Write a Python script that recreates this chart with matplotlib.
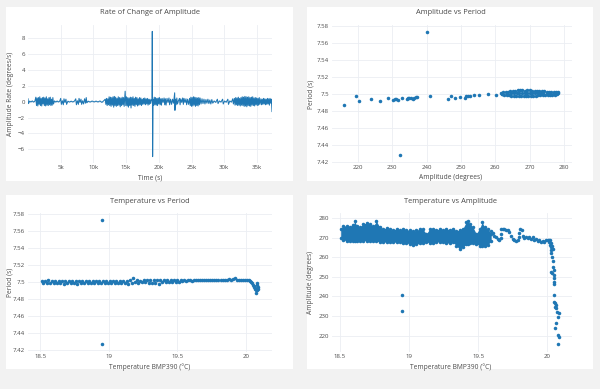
import matplotlib.pyplot as plt
from matplotlib.patches import Rectangle

W, H = 600, 389
plt.rcParams['font.family'] = ['Open Sans', 'DejaVu Sans']

BLUE = '#1f77b4'
TEXT = '#4a4a4a'
GRID = '#ebeef3'
MS = 6.5

# ---- Rate of change of amplitude (line) ----
rate_time = [
    0, 80, 250, 450, 650, 850, 1050,
    1200, 1300, 1400, 1500, 1600, 1700, 1800, 1900, 2000, 2100,
    2200, 2300, 2400, 2500, 2600, 2700, 2800, 2900, 3000, 3100,
    3200, 3300, 3400, 3500, 3600, 3700, 3800, 3900,
    4050, 4250, 4450, 4650, 4850,
    5000, 5100, 5250, 5400, 5500, 5650, 5800, 5900,
    6100, 6350, 6600, 6850, 7100,
    7300, 7400, 7550, 7700, 7800, 7950, 8100, 8200, 8350, 8500,
    8650, 8800, 8900, 9000,
    9200, 9500, 9800, 10100, 10400, 10700, 11000, 11300, 11600,
    11800, 11900, 12000, 12100, 12200, 12300, 12400, 12500, 12600, 12700,
    12800, 12900, 13000, 13100, 13200, 13300, 13400, 13500, 13600, 13700,
    13800, 13900, 14000, 14100, 14200, 14300, 14400, 14500, 14600, 14700,
    14850,
    14950, 15050, 15150, 15250, 15350, 15450, 15550, 15650, 15750, 15850,
    15950, 16050, 16150, 16250, 16350, 16450, 16550, 16650, 16750, 16850,
    16950, 17050, 17150, 17250, 17350, 17450, 17550, 17650, 17750, 17850,
    17950, 18050, 18150, 18250, 18350, 18450, 18550, 18650, 18750, 18850,
    18950, 19000, 19050, 19120,
    19200, 19300, 19400, 19500, 19600, 19700, 19800, 19900, 20000, 20100,
    20200, 20300, 20400, 20500, 20650, 20800, 20900, 21000, 21100, 21250,
    21400, 21550, 21650, 21800, 21950, 22100, 22250,
    22420, 22460, 22550,
    22650, 22750, 22850, 23000, 23150, 23250, 23350, 23500, 23650, 23750,
    23850, 24000, 24150, 24250, 24400, 24550, 24700,
    24800, 24900, 25000, 25100, 25200, 25300, 25400, 25500, 25600, 25700,
    25800, 25900, 26000, 26100, 26200, 26300,
    26450, 26600, 26750, 26900, 27050, 27200, 27350, 27500, 27650, 27800,
    27950, 28100, 28250,
    28450, 28700, 28950, 29050, 29250, 29500, 29750, 29850, 30050, 30300,
    30550, 30650, 30850, 31100, 31300, 31400,
    31550, 31650, 31750, 31850, 31950, 32050, 32150, 32250, 32350, 32450,
    32550, 32650, 32750, 32850, 32950, 33050, 33150, 33250, 33350, 33450,
    33550, 33650, 33750, 33850, 33950, 34050, 34150, 34250, 34350, 34450,
    34550, 34650, 34750, 34850, 34950, 35050, 35150, 35250, 35350, 35450,
    35600, 35700, 35800, 35900, 36000, 36100, 36200, 36300, 36400, 36500,
    36600, 36700, 36800, 36900, 37000, 37100, 37200, 37300,
]
rate_value = [
    0.35, -0.25, 0.06, -0.05, 0.08, -0.06, 0.05,
    0.55, -0.5, 0.45, -0.55, 0.5, -0.35, 0.6, -0.5, 0.4, -0.55,
    0.5, -0.3, 0.55, -0.5, 0.45, -0.55, 0.6, -0.45, 0.35, -0.5,
    0.5, -0.4, 0.55, -0.5, 0.3, -0.45, 0.5, -0.3,
    0.08, -0.06, 0.07, -0.05, 0.06,
    0.4, -0.35, 0.1, -0.4, 0.35, -0.1, 0.3, -0.35,
    0.05, -0.06, 0.05, -0.05, 0.06,
    0.35, -0.4, 0.1, -0.35, 0.4, -0.1, 0.3, -0.35, 0.1, -0.3,
    0.35, -0.2, 0.5, -0.15,
    0.05, -0.06, 0.07, -0.05, 0.06, -0.05, 0.08, -0.1, 0.12,
    0.3, -0.35, 0.4, -0.5, 0.35, -0.4, 0.6, -0.5, 0.55, -0.6,
    0.5, -0.45, 0.6, -0.7, 0.65, -0.5, 0.55, -0.6, 0.4, -0.5,
    0.6, -0.45, 0.5, -0.65, 0.45, -0.5, 0.55, -0.4, 0.5, -0.6,
    1.3,
    -0.5, 0.6, -0.55, 0.5, -0.7, 0.45, -0.5, 0.55, -0.8, 0.5,
    -0.45, 0.6, -0.5, 0.4, -0.6, 0.55, -0.4, 0.5, -0.55, 0.35,
    -0.45, 0.5, -0.4, 0.45, -0.5, 0.3, -0.35, 0.4, -0.3, 0.45,
    -0.4, 0.35, -0.3, 0.4, -0.45, 0.3, -0.35, 0.3, -0.25, 0.2,
    0.1, 8.8, -6.9, 0.3,
    -0.5, 0.55, -0.4, 0.5, -0.45, 0.4, -0.5, 0.45, -0.3, 0.5,
    -0.4, 0.35, -0.45, 0.4, -0.1, 0.45, -0.4, 0.35, -0.45, 0.4,
    -0.1, 0.45, -0.4, 0.3, -0.35, 0.3, -0.2,
    1.1, -1.1, 0.3,
    -0.4, 0.45, -0.3, 0.1, 0.4, -0.4, 0.35, -0.1, 0.45, -0.35,
    0.4, -0.1, 0.35, -0.4, 0.3, -0.35, 0.4,
    -0.5, 0.55, -0.6, 0.5, -0.55, 0.6, -0.45, 0.55, -0.6, 0.5,
    -0.5, 0.45, -0.55, 0.5, -0.4, 0.45,
    -0.3, 0.35, -0.25, 0.3, -0.3, 0.25, -0.2, 0.3, -0.25, 0.2,
    -0.3, 0.25, -0.2,
    0.08, -0.1, 0.3, -0.25, 0.08, -0.06, 0.3, -0.3, 0.07, -0.08,
    0.3, -0.35, 0.08, -0.06, 0.35, -0.3,
    0.4, -0.45, 0.5, -0.4, 0.45, -0.5, 0.55, -0.45, 0.4, -0.55,
    0.5, -0.45, 0.6, -0.5, 0.55, -0.6, 0.65, -0.55, 0.6, -0.65,
    0.55, -0.5, 0.6, -0.55, 0.5, -0.6, 0.55, -0.45, 0.6, -0.5,
    0.45, -0.55, 0.5, -0.4, 0.45, -0.5, 0.4, -0.45, 0.5, -0.35,
    0.35, -0.4, 0.3, -0.35, 0.4, -0.3, 0.35, -0.4, 0.3, -0.35,
    0.4, -0.3, 0.35, -0.45, 0.4, -0.2, 0.3, -1.25,
]

# ---- Amplitude vs Period (scatter) ----
ap_amplitude = [
    216.0, 219.4, 220.4, 223.7, 226.5, 228.9, 230.2, 230.8, 231.2, 231.7,
    232.2, 232.8, 234.2, 234.6, 235.0, 235.5, 236.0, 236.4, 236.8, 237.3,
    240.2, 241.1, 246.2, 247.2, 248.4, 249.8, 251.1, 251.5, 252.0, 252.5,
    253.9, 255.3, 257.8, 260.3,
    261.6, 262.3, 263.0, 263.7, 264.4, 265.1, 265.8, 266.5, 267.2, 267.9,
    268.6, 269.3, 270.0, 270.7, 271.4, 272.1, 272.8, 273.5, 274.2, 274.9,
    275.6, 276.3, 277.0, 277.7, 278.3,
    261.9, 262.6, 263.3, 264.0, 264.7, 265.4, 266.1, 266.8, 267.5, 268.2,
    268.9, 269.6, 270.3, 271.0, 271.7, 272.4, 273.1, 273.8, 274.5, 275.2,
    275.9, 276.6, 277.3, 278.0,
    262.0, 263.5, 264.5, 265.5, 266.3, 267.0, 267.8, 268.5, 269.2, 270.0,
    270.8, 271.6, 272.5, 273.3, 274.0, 275.0, 276.0, 277.0, 278.2,
]
ap_period = [
    7.4875, 7.4980, 7.4912, 7.4941, 7.4920, 7.4949, 7.4930, 7.4940, 7.4937, 7.4925,
    7.4282, 7.4953, 7.4940, 7.4957, 7.4955, 7.4950, 7.4947, 7.4955, 7.4960, 7.4967,
    7.5722, 7.4976, 7.4937, 7.4976, 7.4957, 7.4969, 7.4957, 7.4973, 7.4975, 7.4973,
    7.4988, 7.4984, 7.4996, 7.4988,
    7.5010, 7.5018, 7.5022, 7.5028, 7.5030, 7.5035, 7.5040, 7.5044, 7.5046, 7.5042,
    7.5040, 7.5047, 7.5043, 7.5038, 7.5035, 7.5033, 7.5036, 7.5030, 7.5033, 7.5028,
    7.5026, 7.5024, 7.5022, 7.5020, 7.5018,
    7.4998, 7.4992, 7.4986, 7.4984, 7.4982, 7.4980, 7.4978, 7.4979, 7.4977, 7.4980,
    7.4978, 7.4981, 7.4979, 7.4976, 7.4980, 7.4983, 7.4985, 7.4984, 7.4987, 7.4988,
    7.4990, 7.4992, 7.4994, 7.4996,
    7.5005, 7.5005, 7.5008, 7.5010, 7.5012, 7.5010, 7.5013, 7.5008, 7.5012, 7.5010,
    7.5008, 7.5010, 7.5008, 7.5007, 7.5009, 7.5008, 7.5007, 7.5008, 7.5007,
]

# ---- Temperature vs Period (scatter) ----
tp_temperature = [
    18.512, 18.524, 18.537, 18.549, 18.561, 18.574, 18.586, 18.598, 18.611, 18.623,
    18.636, 18.648, 18.660, 18.673, 18.685, 18.697, 18.710, 18.722, 18.735, 18.747,
    18.759, 18.772, 18.784, 18.796, 18.809, 18.821, 18.834, 18.846, 18.858, 18.871,
    18.883, 18.895, 18.908, 18.920, 18.933, 18.945, 18.957, 18.970, 18.982, 18.994,
    19.007, 19.019, 19.031, 19.044, 19.056, 19.068, 19.081, 19.093, 19.105, 19.118,
    19.130, 19.142, 19.155, 19.167, 19.180, 19.192, 19.204, 19.217, 19.229, 19.241,
    19.254, 19.266, 19.278, 19.291, 19.303, 19.315, 19.328, 19.340, 19.352, 19.365,
    19.377, 19.389, 19.402, 19.414, 19.426, 19.439, 19.451, 19.463, 19.476, 19.488,
    19.500, 19.513, 19.525, 19.537, 19.550, 19.562, 19.575,
    19.590, 19.605, 19.620, 19.635, 19.650, 19.665, 19.680, 19.695, 19.710, 19.725,
    19.740, 19.755, 19.770, 19.785, 19.800, 19.815, 19.830, 19.845, 19.860, 19.875,
    19.890, 19.905, 19.920, 19.935, 19.950, 19.965, 19.980, 19.995, 20.010, 20.020,
    20.032, 20.040, 20.046, 20.052, 20.056, 20.060, 20.064, 20.068, 20.072, 20.075,
    20.078, 20.080, 20.084, 20.086, 20.088,
    18.951, 18.951,
]
tp_period = [
    7.5009, 7.4991, 7.5011, 7.4990, 7.5021, 7.4992, 7.5010, 7.4989, 7.5009, 7.4991,
    7.5011, 7.4988, 7.5008, 7.4977, 7.5012, 7.4990, 7.5010, 7.4989, 7.5013, 7.4991,
    7.5009, 7.4979, 7.5011, 7.4990, 7.5010, 7.4991, 7.5015, 7.4988, 7.5011, 7.4990,
    7.5010, 7.4992, 7.5012, 7.4989, 7.5011, 7.4991, 7.5009, 7.4990, 7.5013, 7.4991,
    7.5011, 7.4990, 7.5012, 7.4992, 7.5014, 7.4993, 7.5013, 7.4994, 7.5017, 7.4994,
    7.5019, 7.4978, 7.5021, 7.4996, 7.5046, 7.4997, 7.5023, 7.4996, 7.5019, 7.4997,
    7.5021, 7.4998, 7.5020, 7.4996, 7.5022, 7.4995, 7.5023, 7.4990, 7.5021, 7.4976,
    7.5023, 7.4997, 7.5024, 7.4999, 7.5022, 7.5000, 7.5025, 7.5002, 7.5023, 7.5004,
    7.5026, 7.5006, 7.5027, 7.5008, 7.5025, 7.5010, 7.5023,
    7.5020, 7.5018, 7.5022, 7.5020, 7.5024, 7.5026, 7.5024, 7.5028, 7.5026, 7.5030,
    7.5027, 7.5024, 7.5026, 7.5022, 7.5025, 7.5028, 7.5026, 7.5030, 7.5028, 7.5032,
    7.5030, 7.5034, 7.5044, 7.5030, 7.5026, 7.5022, 7.5028, 7.5026, 7.5024, 7.5020,
    7.5012, 7.4998, 7.4985, 7.4965, 7.4950, 7.4938, 7.4925, 7.4930, 7.4910, 7.4878,
    7.4905, 7.4988, 7.4962, 7.4940, 7.4925,
    7.5725, 7.4278,
]

# ---- Temperature vs Amplitude: dense cloud edges + sparse points ----
ta_cloud_temperature = [
    18.505, 18.524, 18.548, 18.572, 18.596, 18.608, 18.620, 18.644, 18.668, 18.692,
    18.716, 18.740, 18.764, 18.788, 18.812, 18.837, 18.861, 18.885, 18.909, 18.933,
    18.957, 18.981, 19.005, 19.029, 19.053, 19.077, 19.101, 19.125, 19.149, 19.173,
    19.197, 19.221, 19.245, 19.269, 19.293, 19.317, 19.341, 19.365, 19.389, 19.413,
    19.425, 19.438, 19.462, 19.486, 19.510, 19.529, 19.546, 19.570, 19.594,
]
ta_cloud_upper = [
    274.5, 275.8, 276.1, 275.6, 276.5, 278.2, 276.1, 275.3, 277.0, 277.3,
    276.8, 275.8, 278.2, 275.3, 274.5, 274.8, 274.1, 273.8, 274.5, 273.9,
    274.3, 273.8, 273.9, 273.3, 273.6, 274.5, 274.1, 271.9, 274.3, 274.5,
    273.8, 274.5, 273.8, 274.5, 273.9, 274.5, 273.4, 273.9, 274.5, 277.8,
    278.2, 277.0, 275.3, 271.9, 274.5, 277.8, 275.3, 274.5, 271.9,
]
ta_cloud_lower = [
    269.6, 268.8, 268.3, 268.3, 268.4, 268.4, 268.3, 268.3, 268.4, 268.4,
    268.2, 268.1, 268.0, 267.9, 267.8, 267.6, 267.7, 267.7, 267.6, 267.6,
    267.4, 267.2, 266.8, 266.4, 266.6, 267.1, 267.4, 267.6, 267.4, 267.2,
    267.6, 267.9, 267.6, 267.1, 267.3, 267.6, 265.9, 264.2, 265.0, 266.7,
    266.8, 267.0, 267.2, 266.8, 265.9, 265.7, 265.5, 266.3, 268.3,
]
ta_temperature = [
    19.594, 19.606, 19.618, 19.630, 19.642, 19.654, 19.663, 19.668, 19.666, 19.678,
    19.690, 19.702, 19.714, 19.726, 19.738, 19.750, 19.762, 19.774, 19.786, 19.793,
    19.798, 19.805, 19.815, 19.822, 19.834, 19.846, 19.858, 19.870, 19.882, 19.894,
    19.906, 19.918, 19.930, 19.942, 19.954, 19.966, 19.978, 19.990, 20.002, 20.010,
    20.014, 20.019, 20.024, 20.026, 20.029,
    20.020, 20.030, 20.035, 20.038,
    20.034, 20.039, 20.041, 20.046, 20.029, 20.034, 20.046, 20.050, 20.046, 20.048,
    20.046, 20.046, 20.058, 20.053, 20.065, 20.060, 20.070, 20.082, 20.075, 20.065,
    20.058, 20.075, 20.082, 20.075,
    18.952, 18.952,
]
ta_amplitude = [
    273.2, 272.2, 271.0, 270.2, 269.3, 269.0, 269.7, 271.9, 274.4, 274.6,
    274.2, 273.6, 273.9, 272.7, 271.0, 269.3, 268.5, 268.0, 268.5, 270.2,
    272.2, 274.4, 273.9, 271.0, 269.7, 270.5, 269.8, 270.5, 269.3, 270.2,
    268.8, 269.3, 268.1, 268.5, 267.6, 268.0, 267.6, 268.5, 268.8, 269.0,
    267.6, 266.4, 265.1, 263.7, 262.0,
    268.5, 267.0, 265.5, 264.0,
    260.3, 257.8, 255.2, 253.5, 252.3, 251.8, 251.0, 249.3, 247.6, 246.5,
    240.8, 237.3, 236.5, 234.8, 234.0, 235.8, 232.2, 231.4, 229.7, 226.6,
    223.7, 220.3, 219.5, 215.8,
    240.5, 232.5,
]

# ---- tick labels ----
rate_xticks = [5000, 10000, 15000, 20000, 25000, 30000, 35000]
rate_xlabels = ['5k', '10k', '15k', '20k', '25k', '30k', '35k']
rate_yticks = [-6, -4, -2, 0, 2, 4, 6, 8]
rate_ylabels = ['\u22126', '\u22124', '\u22122', '0', '2', '4', '6', '8']
period_ticks = [7.42, 7.44, 7.46, 7.48, 7.5, 7.52, 7.54, 7.56, 7.58]
period_labels = ['7.42', '7.44', '7.46', '7.48', '7.5', '7.52', '7.54', '7.56', '7.58']
amp_ticks = [220, 230, 240, 250, 260, 270, 280]
amp_labels = ['220', '230', '240', '250', '260', '270', '280']
temp_ticks = [18.5, 19, 19.5, 20]
temp_labels = ['18.5', '19', '19.5', '20']


def fx(x):
    return x / W


def fy(y):
    return 1 - y / H


fig = plt.figure(figsize=(6, 3.89), dpi=100, facecolor='#f2f2f2')

# white cards
for x0, y0, x1, y1 in [(6, 7, 293, 181), (307, 7, 593, 181),
                       (6, 195, 293, 369), (307, 195, 593, 369)]:
    fig.patches.append(Rectangle((fx(x0), fy(y1)), (x1 - x0) / W, (y1 - y0) / H,
                                 transform=fig.transFigure, facecolor='white',
                                 edgecolor='none', zorder=-10))


def make_ax(x0, y0, x1, y1):
    ax = fig.add_axes([fx(x0), fy(y1), (x1 - x0) / W, (y1 - y0) / H])
    ax.set_facecolor('white')
    for s in ax.spines.values():
        s.set_visible(False)
    ax.tick_params(length=0, labelsize=4.4, colors=TEXT)
    ax.tick_params(axis='x', pad=1.4)
    ax.tick_params(axis='y', pad=2.0)
    ax.grid(True, color=GRID, linewidth=0.6)
    ax.set_axisbelow(True)
    return ax


def labels(title, xlab, ylab, cx, ty, xy, yx, cy):
    fig.text(fx(cx), fy(ty), title, ha='center', va='center', fontsize=5.4, color=TEXT)
    fig.text(fx(cx), fy(xy), xlab, ha='center', va='center', fontsize=4.8, color=TEXT)
    fig.text(fx(yx), fy(cy), ylab, ha='center', va='center', fontsize=4.8,
             color=TEXT, rotation=90)


# top-left
ax1 = make_ax(28, 25, 272, 163)
ax1.plot(rate_time, rate_value, color=BLUE, linewidth=0.75)
ax1.set_xlim(0, 37300)
ax1.set_ylim(-7.7, 9.6)
ax1.set_xticks(rate_xticks, rate_xlabels)
ax1.set_yticks(rate_yticks, rate_ylabels)
labels('Rate of Change of Amplitude', 'Time (s)', 'Amplitude Rate (degrees/s)',
       150, 12.7, 177.7, 11, 94)

# top-right
ax2 = make_ax(332, 25, 572, 163)
ax2.scatter(ap_amplitude, ap_period, s=MS, color=BLUE, linewidths=0)
ax2.set_xlim(212.5, 282.3)
ax2.set_ylim(7.419, 7.581)
ax2.set_xticks(amp_ticks, amp_labels)
ax2.set_yticks(period_ticks, period_labels)
labels('Amplitude vs Period', 'Amplitude (degrees)', 'Period (s)',
       451, 12.7, 177.7, 311, 94)

# bottom-left
ax3 = make_ax(28, 213, 272, 352)
ax3.scatter(tp_temperature, tp_period, s=MS, color=BLUE, linewidths=0)
ax3.set_xlim(18.412, 20.19)
ax3.set_ylim(7.418, 7.5812)
ax3.set_xticks(temp_ticks, temp_labels)
ax3.set_yticks(period_ticks, period_labels)
labels('Temperature vs Period', 'Temperature BMP390 (\u00b0C)', 'Period (s)',
       150, 201.3, 366.7, 10, 282)

# bottom-right
ax4 = make_ax(332, 213, 572, 352)
ax4.fill_between(ta_cloud_temperature, ta_cloud_lower, ta_cloud_upper,
                 color=BLUE, linewidth=0)
ax4.scatter(ta_cloud_temperature, ta_cloud_upper, s=MS, color=BLUE, linewidths=0)
ax4.scatter(ta_cloud_temperature, ta_cloud_lower, s=MS, color=BLUE, linewidths=0)
ax4.scatter(ta_temperature, ta_amplitude, s=MS, color=BLUE, linewidths=0)
ax4.set_xlim(18.442, 20.179)
ax4.set_ylim(211.7, 282.5)
ax4.set_xticks(temp_ticks, temp_labels)
ax4.set_yticks(amp_ticks, amp_labels)
labels('Temperature vs Amplitude', 'Temperature BMP390 (\u00b0C)', 'Amplitude (degrees)',
       451, 201.3, 366.7, 311, 282)

fig.savefig('out.png', dpi=100, facecolor=fig.get_facecolor())
